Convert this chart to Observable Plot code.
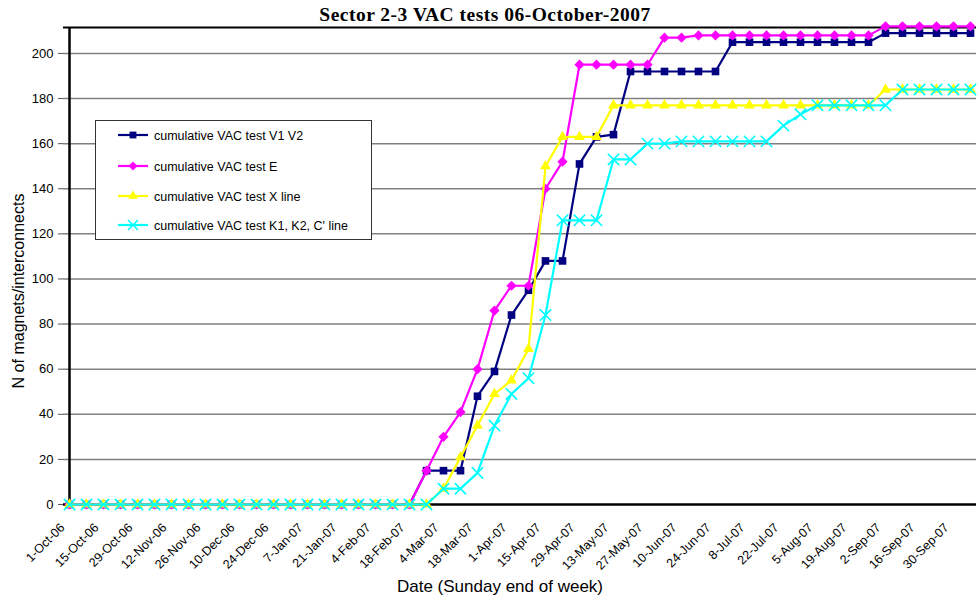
<!DOCTYPE html>
<html><head><meta charset="utf-8">
<script src="https://cdn.jsdelivr.net/npm/d3@7"></script>
<script src="https://cdn.jsdelivr.net/npm/@observablehq/plot@0.6"></script>
<style>
body{margin:0;background:#fff}
#chart{position:relative;width:977px;height:598px}
</style>
</head><body><div id="chart"></div>
<script>
const weeks = ["1-Oct-06","8-Oct-06","15-Oct-06","22-Oct-06","29-Oct-06","5-Nov-06","12-Nov-06","19-Nov-06","26-Nov-06","3-Dec-06","10-Dec-06","17-Dec-06","24-Dec-06","31-Dec-06","7-Jan-07","14-Jan-07","21-Jan-07","28-Jan-07","4-Feb-07","11-Feb-07","18-Feb-07","25-Feb-07","4-Mar-07","11-Mar-07","18-Mar-07","25-Mar-07","1-Apr-07","8-Apr-07","15-Apr-07","22-Apr-07","29-Apr-07","6-May-07","13-May-07","20-May-07","27-May-07","3-Jun-07","10-Jun-07","17-Jun-07","24-Jun-07","1-Jul-07","8-Jul-07","15-Jul-07","22-Jul-07","29-Jul-07","5-Aug-07","12-Aug-07","19-Aug-07","26-Aug-07","2-Sep-07","9-Sep-07","16-Sep-07","23-Sep-07","30-Sep-07","7-Oct-07"];
const tickLabels = ["1-Oct-06","15-Oct-06","29-Oct-06","12-Nov-06","26-Nov-06","10-Dec-06","24-Dec-06","7-Jan-07","21-Jan-07","4-Feb-07","18-Feb-07","4-Mar-07","18-Mar-07","1-Apr-07","15-Apr-07","29-Apr-07","13-May-07","27-May-07","10-Jun-07","24-Jun-07","8-Jul-07","22-Jul-07","5-Aug-07","19-Aug-07","2-Sep-07","16-Sep-07","30-Sep-07"];
const yTicks = [0,20,40,60,80,100,120,140,160,180,200];

const testV1V2 = [0,0,0,0,0,0,0,0,0,0,0,0,0,0,0,0,0,0,0,0,0,
  15,15,15,48,59,84,95,108,108,151,163,164,192,192,192,192,192,192,
  205,205,205,205,205,205,205,205,205,
  209,209,209,209,209,209];
const testE = [0,0,0,0,0,0,0,0,0,0,0,0,0,0,0,0,0,0,0,0,0,
  15,30,41,60,86,97,97,140,152,195,195,195,195,195,207,207,
  208,208,208,208,208,208,208,208,208,208,208,
  212,212,212,212,212,212];
const testX = [0,0,0,0,0,0,0,0,0,0,0,0,0,0,0,0,0,0,0,0,0,0,
  7,21,35,49,55,69,150,163,163,163,
  177,177,177,177,177,177,177,177,177,177,177,177,177,177,177,177,
  184,184,184,184,184,184];
const testK = [0,0,0,0,0,0,0,0,0,0,0,0,0,0,0,0,0,0,0,0,0,0,
  7,7,14,35,49,56,84,126,126,126,153,153,160,160,
  161,161,161,161,161,161,168,173,177,177,177,177,177,
  184,184,184,184,184];

const seriesNames = ["cumulative VAC test V1 V2","cumulative VAC test E","cumulative VAC test X line","cumulative VAC test K1, K2, C' line"];
const seriesValues = [testV1V2, testE, testX, testK];
const seriesColors = ["#000080","#ff00ff","#ffff00","#00ffff"];
const seriesSymbols = ["square","diamond2","triangle","times"];
const seriesR = [4.3, 4.6, 4.0, 5.2];

const marks = [
  Plot.gridY({ticks: yTicks.filter(d => d > 0), stroke: "#808080", strokeOpacity: 1, strokeWidth: 1.5}),
  Plot.ruleY([211.5], {stroke: "#000", strokeWidth: 2}),
  Plot.ruleY([0], {stroke: "#000", strokeWidth: 2.5}),
  Plot.ruleX([weeks[0]], {stroke: "#000", strokeWidth: 2.5}),
  Plot.axisY({ticks: yTicks, tickSize: 5, tickPadding: 4, tickFormat: () => "", label: null, stroke: "#555"}),
  Plot.text(yTicks, {y: d => d, text: d => String(d), frameAnchor: "left", dx: -10, textAnchor: "end",
    fontSize: 13, fill: "#000"}),
  Plot.text(tickLabels, {x: d => d, y: d => 0, text: d => d, rotate: -45, textAnchor: "end", lineAnchor: "middle",
    dx: -7, dy: 21, fontSize: 12.5, fill: "#000"})
];
seriesNames.forEach((name, k) => {
  const rows = weeks.map((w, i) => ({week: w, value: seriesValues[k][i]}));
  marks.push(Plot.line(rows, {x: "week", y: "value", stroke: seriesColors[k], strokeWidth: 2.2}));
  const isStroke = seriesSymbols[k] === "times";
  marks.push(Plot.dot(rows, {x: "week", y: "value", symbol: seriesSymbols[k], r: seriesR[k],
    fill: isStroke ? "none" : seriesColors[k], stroke: isStroke ? seriesColors[k] : "none", strokeWidth: isStroke ? 1.6 : 0}));
});

const chart = Plot.plot({
  width: 977, height: 598,
  marginTop: 27, marginBottom: 94, marginLeft: 63, marginRight: 1,
  style: {fontFamily: "'Liberation Sans', Arial, sans-serif", fontSize: "13px", background: "#fff", overflow: "visible", color: "#000"},
  x: {type: "point", domain: weeks, padding: 0, axis: null},
  y: {domain: [0, 211.5]},
  marks
});
document.getElementById("chart").appendChild(chart);

const svg = d3.select(chart);

svg.append("text").attr("x", 485).attr("y", 21).attr("text-anchor", "middle")
  .attr("font-family", "'Liberation Serif', 'Times New Roman', serif").attr("font-weight", "bold")
  .attr("font-size", 19.5).attr("letter-spacing", 0.5).attr("fill", "#000").text("Sector 2-3 VAC tests 06-October-2007");
svg.append("text").attr("transform", "translate(24,291) rotate(-90)").attr("text-anchor", "middle")
  .attr("font-size", 16).attr("fill", "#000").text("N of magnets/interconnects");
svg.append("text").attr("x", 500).attr("y", 592).attr("text-anchor", "middle")
  .attr("font-size", 17).attr("fill", "#000").text("Date (Sunday end of week)");

const lg = svg.append("g");
lg.append("rect").attr("x", 95.5).attr("y", 120.5).attr("width", 276).attr("height", 119)
  .attr("fill", "#fff").attr("stroke", "#333").attr("stroke-width", 1);
const rowY = [135, 166, 196, 225];
const d3Sym = {square: d3.symbolSquare, diamond2: d3.symbolDiamond2, triangle: d3.symbolTriangle, times: d3.symbolTimes};
seriesNames.forEach((name, k) => {
  const y = rowY[k];
  lg.append("line").attr("x1", 118).attr("x2", 148).attr("y1", y).attr("y2", y)
    .attr("stroke", seriesColors[k]).attr("stroke-width", 2.2);
  const isStroke = seriesSymbols[k] === "times";
  lg.append("path").attr("transform", `translate(133,${y})`)
    .attr("d", d3.symbol(d3Sym[seriesSymbols[k]], Math.PI * seriesR[k] * seriesR[k] * 0.8)())
    .attr("fill", isStroke ? "none" : seriesColors[k]).attr("stroke", isStroke ? seriesColors[k] : "none")
    .attr("stroke-width", 1.6);
  lg.append("text").attr("x", 154).attr("y", y + 4.5).attr("text-anchor", "start")
    .attr("font-size", 12.5).attr("fill", "#000").text(name);
});
</script></body></html>
